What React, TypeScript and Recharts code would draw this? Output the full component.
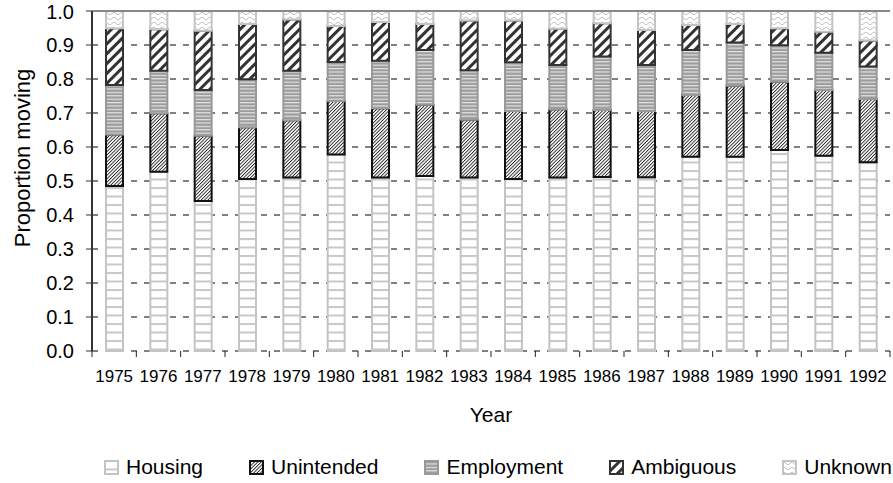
import { BarChart, Bar, XAxis, YAxis, CartesianGrid, Legend, ReferenceLine } from 'recharts';

const years = ['1975', '1976', '1977', '1978', '1979', '1980', '1981', '1982', '1983', '1984', '1985', '1986', '1987', '1988', '1989', '1990', '1991', '1992'];
const housing = [0.485, 0.527, 0.441, 0.506, 0.51, 0.578, 0.51, 0.515, 0.51, 0.506, 0.51, 0.512, 0.511, 0.571, 0.571, 0.591, 0.574, 0.555];
const unintended = [0.152, 0.172, 0.192, 0.152, 0.169, 0.157, 0.204, 0.209, 0.171, 0.2, 0.201, 0.197, 0.195, 0.182, 0.209, 0.201, 0.194, 0.186];
const employment = [0.145, 0.125, 0.135, 0.141, 0.145, 0.115, 0.14, 0.161, 0.145, 0.143, 0.13, 0.157, 0.135, 0.132, 0.127, 0.107, 0.109, 0.096];
const ambiguous = [0.167, 0.122, 0.174, 0.163, 0.151, 0.106, 0.114, 0.077, 0.146, 0.123, 0.107, 0.098, 0.103, 0.074, 0.055, 0.05, 0.062, 0.076];
const unknown = [0.051, 0.054, 0.058, 0.038, 0.025, 0.044, 0.032, 0.038, 0.028, 0.028, 0.052, 0.036, 0.056, 0.041, 0.038, 0.051, 0.061, 0.087];
const yTicks = [0, 0.1, 0.2, 0.3, 0.4, 0.5, 0.6, 0.7, 0.8, 0.9, 1.0];

const data = years.map((year, i) => ({
  year,
  housing: housing[i],
  unintended: unintended[i],
  employment: employment[i],
  ambiguous: ambiguous[i],
  unknown: unknown[i],
}));

const FONT = '"Liberation Sans", Arial, sans-serif';
const CHART_W = 893;
const CHART_H = 483;
const MARGIN = { top: 11, right: 3, left: 0, bottom: 0 };
const Y_AXIS_W = 92;

const series = [
  { key: 'housing', name: 'Housing', fill: 'url(#pHousing)', stroke: '#c4c4c4' },
  { key: 'unintended', name: 'Unintended', fill: 'url(#pUnintended)', stroke: '#111' },
  { key: 'employment', name: 'Employment', fill: 'url(#pEmployment)', stroke: '#999' },
  { key: 'ambiguous', name: 'Ambiguous', fill: 'url(#pAmbiguous)', stroke: '#333' },
  { key: 'unknown', name: 'Unknown', fill: 'url(#pUnknown)', stroke: '#c4c4c4' },
];

// half of one category band, used to put the x tick marks between the bars
const halfBand = (CHART_W - MARGIN.left - MARGIN.right - Y_AXIS_W) / years.length / 2;

const YearTick = ({ x, y, payload, index }: any) => {
  const half = payload && payload.offset ? payload.offset : halfBand;
  const axisY = y - 19;
  return (
    <g>
      <line x1={x - half} x2={x - half} y1={axisY} y2={axisY + 6} stroke="#222" />
      {index === years.length - 1 && (
        <line x1={x + half} x2={x + half} y1={axisY} y2={axisY + 6} stroke="#222" />
      )}
      <text x={x} y={y} dy="0.71em" textAnchor="middle" fontFamily={FONT} fontSize={17} fill="#000">
        {payload.value}
      </text>
    </g>
  );
};

const YTitle = ({ viewBox }: any) => {
  const x = viewBox.x + 22;
  const y = viewBox.y + viewBox.height / 2 - 23;
  return (
    <text x={x} y={y} transform={`rotate(-90 ${x} ${y})`} textAnchor="middle" dominantBaseline="central"
      fontFamily={FONT} fontSize={22} fill="#000">
      Proportion moving
    </text>
  );
};

const XTitle = ({ viewBox }: any) => (
  <text x={viewBox.x + viewBox.width / 2} y={viewBox.y + 71} textAnchor="middle"
    fontFamily={FONT} fontSize={21} fill="#000">
    Year
  </text>
);

const LegendContent = () => (
  <div style={{ display: 'flex', paddingLeft: 104, paddingTop: 25, gap: 46, fontFamily: FONT, fontSize: 21, color: '#000', width: CHART_W, boxSizing: 'border-box' }}>
    {series.map((s) => (
      <div key={s.key} style={{ display: 'flex', alignItems: 'center' }}>
        <svg width={15} height={15} style={{ marginRight: 7 }}>
          <rect x={1} y={1} width={13} height={13} fill={s.fill} stroke={s.stroke} strokeWidth={2} />
        </svg>
        <span style={{ lineHeight: '22px' }}>{s.name}</span>
      </div>
    ))}
  </div>
);

export default function App() {
  return (
    <div style={{ position: 'absolute', left: 0, top: 0 }}>
      <BarChart width={CHART_W} height={CHART_H} data={data} margin={MARGIN} barSize={17}>
        <defs>
          <pattern id="pHousing" patternUnits="userSpaceOnUse" width="8" height="8.5">
            <rect width="8" height="8.5" fill="#fff" />
            <rect width="8" height="2" fill="#c8c8c8" />
          </pattern>
          <pattern id="pUnintended" patternUnits="userSpaceOnUse" width="2.4" height="4" patternTransform="rotate(45)">
            <rect width="2.4" height="4" fill="#fff" />
            <rect width="0.9" height="4" fill="#222" />
          </pattern>
          <pattern id="pEmployment" patternUnits="userSpaceOnUse" width="8" height="3.4">
            <rect width="8" height="3.4" fill="#9c9c9c" />
            <rect width="8" height="1.2" fill="#e4e4e4" />
          </pattern>
          <pattern id="pAmbiguous" patternUnits="userSpaceOnUse" width="7" height="7" patternTransform="rotate(45)">
            <rect width="7" height="7" fill="#fff" />
            <rect width="3" height="7" fill="#333" />
          </pattern>
          <pattern id="pUnknown" patternUnits="userSpaceOnUse" width="8" height="5">
            <rect width="8" height="5" fill="#fff" />
            <path d="M0 3.5 Q2 0.5 4 3.5 T8 3.5" fill="none" stroke="#c0c0c0" strokeWidth="1" />
          </pattern>
        </defs>
        <CartesianGrid xAxisId="cat" vertical={false} stroke="#000" strokeDasharray="6 7" />
        <XAxis xAxisId="edges" type="number" domain={[0, years.length]} tick={false} tickLine={false}
          height={0} axisLine={{ stroke: '#222', strokeWidth: 2 }} />
        <XAxis xAxisId="cat" dataKey="year" height={80} axisLine={false} tickLine={false} tickSize={0} tickMargin={19}
          tick={<YearTick />} interval={0} label={<XTitle />} />
        <YAxis domain={[0, 1]} ticks={yTicks} width={Y_AXIS_W} tickFormatter={(v: number) => v.toFixed(1)}
          tick={{ fontSize: 20, fill: '#000', fontFamily: FONT }} tickSize={6} tickMargin={12}
          axisLine={{ stroke: '#333', strokeWidth: 2 }} tickLine={{ stroke: '#333' }} label={<YTitle />} />
        {series.map((s) => (
          <Bar key={s.key} xAxisId="cat" dataKey={s.key} name={s.name} stackId="s" fill={s.fill}
            stroke={s.stroke} strokeWidth={2} isAnimationActive={false} />
        ))}
        <ReferenceLine xAxisId="cat" y={1} stroke="#888" strokeWidth={2} />
        <ReferenceLine xAxisId="edges" x={years.length} stroke="#999" strokeWidth={2} />
        <Legend verticalAlign="bottom" height={52} wrapperStyle={{ left: 0, width: CHART_W }} content={() => <LegendContent />} />
      </BarChart>
    </div>
  );
}
